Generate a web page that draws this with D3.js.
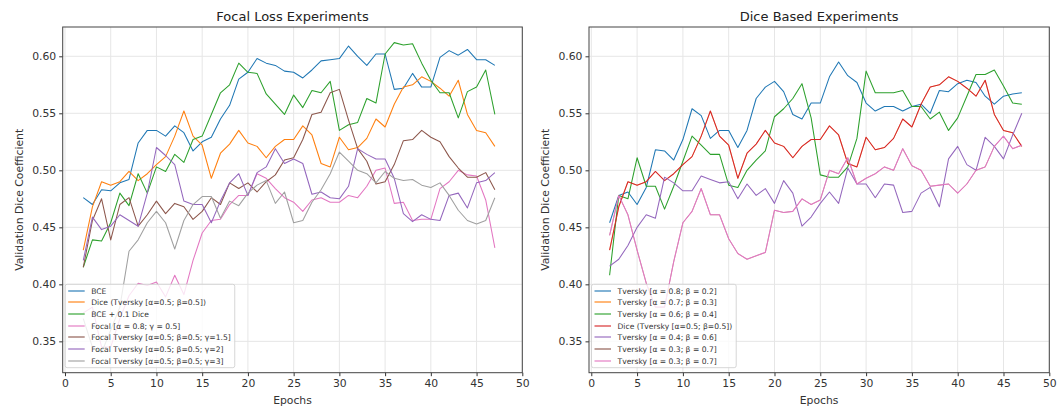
<!DOCTYPE html>
<html>
<head>
<meta charset="utf-8">
<script src="https://cdn.jsdelivr.net/npm/d3@7"></script>
<style>
  body { margin: 0; background: #fff; }
  svg { display: block; font-family: "DejaVu Sans", sans-serif; }
</style>
</head>
<body>
<svg width="1061" height="412"></svg>
<script>
var epochs = [2,3,4,5,6,7,8,9,10,11,12,13,14,15,16,17,18,19,20,21,22,23,24,25,26,27,28,29,30,31,32,33,34,35,36,37,38,39,40,41,42,43,44,45,46,47];
var xTicks = [0,5,10,15,20,25,30,35,40,45,50];
var yTicks = [0.35,0.40,0.45,0.50,0.55,0.60];

// focal loss panel
var bce = [0.476,0.470,0.483,0.482,0.489,0.492,0.524,0.535,0.535,0.530,
  0.539,0.533,0.517,0.525,0.529,0.545,0.557,0.580,0.586,0.598,
  0.594,0.592,0.587,0.586,0.581,0.588,0.596,0.597,0.598,0.609,
  0.600,0.592,0.602,0.602,0.571,0.572,0.585,0.573,0.573,0.599,
  0.605,0.601,0.606,0.597,0.597,0.592];
var dice = [0.430,0.468,0.490,0.487,0.490,0.499,0.491,0.497,0.505,0.512,
  0.530,0.552,0.530,0.522,0.493,0.515,0.523,0.535,0.524,0.521,
  0.511,0.521,0.527,0.527,0.539,0.531,0.506,0.503,0.529,0.518,
  0.520,0.528,0.545,0.538,0.558,0.573,0.575,0.582,0.578,0.572,
  0.565,0.579,0.549,0.535,0.533,0.521];
var bceDice = [0.415,0.439,0.438,0.454,0.480,0.469,0.497,0.480,0.503,0.499,
  0.514,0.507,0.527,0.530,0.549,0.568,0.575,0.594,0.586,0.585,
  0.567,0.558,0.549,0.566,0.555,0.570,0.568,0.578,0.535,0.540,
  0.542,0.563,0.559,0.602,0.612,0.610,0.611,0.594,0.579,0.568,
  0.568,0.546,0.569,0.573,0.588,0.549];
var focal = [0.375,0.380,0.345,0.345,0.370,0.390,0.401,0.399,0.402,0.389,
  0.408,0.391,0.421,0.445,0.456,0.457,0.470,0.478,0.478,0.497,
  0.493,0.484,0.476,0.472,0.464,0.474,0.476,0.472,0.472,0.478,
  0.476,0.486,0.500,0.502,0.471,0.472,0.456,0.457,0.457,0.484,
  0.490,0.500,0.496,0.495,0.474,0.432];
var focalTv15 = [0.415,0.456,0.475,0.439,0.470,0.476,0.451,0.461,0.473,0.462,
  0.471,0.468,0.457,0.464,0.476,0.470,0.489,0.484,0.489,0.481,
  0.490,0.496,0.509,0.511,0.527,0.549,0.551,0.568,0.571,0.544,
  0.519,0.508,0.488,0.490,0.505,0.526,0.527,0.535,0.529,0.525,
  0.512,0.502,0.494,0.494,0.498,0.483];
var focalTv2 = [0.421,0.459,0.448,0.451,0.461,0.456,0.451,0.480,0.520,0.513,
  0.505,0.473,0.470,0.470,0.454,0.473,0.489,0.497,0.478,0.498,
  0.503,0.519,0.506,0.510,0.506,0.479,0.481,0.476,0.475,0.486,
  0.519,0.514,0.510,0.510,0.493,0.462,0.455,0.461,0.457,0.456,
  0.478,0.480,0.467,0.489,0.491,0.498];
var focalTv3 = [0.370,0.345,0.340,0.360,0.380,0.429,0.439,0.454,0.464,0.454,
  0.431,0.456,0.470,0.477,0.477,0.458,0.473,0.469,0.480,0.487,
  0.491,0.471,0.481,0.454,0.456,0.472,0.483,0.497,0.516,0.508,
  0.500,0.497,0.489,0.499,0.493,0.491,0.492,0.487,0.485,0.489,
  0.478,0.465,0.456,0.453,0.456,0.476];

// dice panel
var tv08 = [0.454,0.478,0.481,0.470,0.485,0.518,0.517,0.509,0.527,0.554,
  0.548,0.528,0.535,0.535,0.520,0.535,0.563,0.573,0.578,0.569,
  0.549,0.545,0.559,0.559,0.582,0.595,0.583,0.577,0.559,0.552,
  0.556,0.556,0.552,0.556,0.558,0.550,0.570,0.569,0.576,0.579,
  0.577,0.565,0.558,0.565,0.567,0.568];
var tv07 = dice.slice();
var tv06 = [0.408,0.478,0.475,0.511,0.486,0.486,0.466,0.486,0.508,0.530,
  0.522,0.514,0.514,0.487,0.485,0.500,0.509,0.517,0.547,0.554,
  0.563,0.576,0.546,0.496,0.494,0.494,0.503,0.528,0.587,0.568,
  0.568,0.568,0.570,0.556,0.556,0.545,0.551,0.535,0.546,0.565,
  0.584,0.584,0.588,0.574,0.559,0.558];
var tv04 = [0.416,0.422,0.434,0.450,0.461,0.458,0.494,0.489,0.482,0.482,
  0.495,0.492,0.489,0.490,0.475,0.488,0.478,0.484,0.471,0.491,
  0.480,0.451,0.459,0.471,0.481,0.471,0.502,0.488,0.488,0.476,
  0.488,0.487,0.463,0.464,0.480,0.485,0.468,0.510,0.521,0.505,
  0.500,0.529,0.521,0.510,0.531,0.550];
var tv03 = [0.443,0.478,0.461,0.430,0.401,0.380,0.380,0.420,0.454,0.464,
  0.484,0.461,0.461,0.440,0.427,0.422,0.425,0.428,0.465,0.463,
  0.464,0.475,0.470,0.474,0.500,0.497,0.511,0.488,0.493,0.497,
  0.503,0.500,0.519,0.504,0.500,0.486,0.487,0.488,0.480,0.488,
  0.500,0.503,0.521,0.530,0.519,0.522];
var tv03b = tv03.slice();

var focalSeries = [
  {name: "BCE", values: bce, color: "#1f77b4"},
  {name: "Dice (Tversky [α=0.5; β=0.5])", values: dice, color: "#ff7f0e"},
  {name: "BCE + 0.1 Dice", values: bceDice, color: "#2ca02c"},
  {name: "Focal [α = 0.8; γ = 0.5]", values: focal, color: "#e377c2"},
  {name: "Focal Tversky [α=0.5; β=0.5; γ=1.5]", values: focalTv15, color: "#8c564b"},
  {name: "Focal Tversky [α=0.5; β=0.5; γ=2]", values: focalTv2, color: "#9467bd"},
  {name: "Focal Tversky [α=0.5; β=0.5; γ=3]", values: focalTv3, color: "#a0a0a0"}
];
// orange and brown lines sit exactly under red and pink in the reference
var diceSeries = [
  {name: "Tversky [α = 0.8; β = 0.2]", values: tv08, color: "#1f77b4"},
  {name: "Tversky [α = 0.7; β = 0.3]", values: tv07, color: "#ff7f0e", under: true},
  {name: "Tversky [α = 0.6; β = 0.4]", values: tv06, color: "#2ca02c"},
  {name: "Dice (Tversky [α=0.5; β=0.5])", values: dice, color: "#d62728"},
  {name: "Tversky [α = 0.4; β = 0.6]", values: tv04, color: "#9467bd"},
  {name: "Tversky [α = 0.3; β = 0.7]", values: tv03b, color: "#8c564b", under: true},
  {name: "Tversky [α = 0.3; β = 0.7]", values: tv03, color: "#e377c2"}
];

var svg = d3.select("svg");
var plotTop = 27, plotBottom = 372.7;

function drawPanel(left, right, title, series) {
  var x = d3.scaleLinear().domain([-0.25, 50]).range([left, right]);
  var y = d3.scaleLinear().domain([0.3225, 0.6257]).range([plotBottom, plotTop]);
  var g = svg.append("g");

  // grid
  g.append("g").selectAll("line").data(xTicks).enter().append("line")
    .attr("x1", d => x(d)).attr("x2", d => x(d))
    .attr("y1", plotTop).attr("y2", plotBottom)
    .attr("stroke", "#e6e6e6").attr("stroke-width", 1);
  g.append("g").selectAll("line").data(yTicks).enter().append("line")
    .attr("x1", left).attr("x2", right)
    .attr("y1", d => y(d)).attr("y2", d => y(d))
    .attr("stroke", "#e6e6e6").attr("stroke-width", 1);

  var line = d3.line()
    .x((d, i) => x(epochs[i]))
    .y(d => y(d));

  g.append("g").selectAll("path").data(series).enter().append("path")
    .attr("d", d => line(d.values))
    .attr("fill", "none")
    .attr("stroke", d => d.color)
    .attr("stroke-width", d => d.under ? 0.5 : 1.05)
    .attr("stroke-linejoin", "round");

  // axes
  var xAxis = g.append("g").attr("transform", "translate(0," + plotBottom + ")")
    .call(d3.axisBottom(x).tickValues(xTicks).tickFormat(d3.format("d")).tickSize(3.5).tickPadding(3));
  var yAxis = g.append("g").attr("transform", "translate(" + left + ",0)")
    .call(d3.axisLeft(y).tickValues(yTicks).tickFormat(d3.format(".2f")).tickSize(3.5).tickPadding(3));
  [xAxis, yAxis].forEach(function(a) {
    a.select(".domain").remove();
    a.selectAll("line").attr("stroke", "#333");
    a.selectAll("text").attr("font-size", 10.8).attr("fill", "#333")
      .attr("font-family", "DejaVu Sans");
  });

  g.append("rect")
    .attr("x", left).attr("y", plotTop)
    .attr("width", right - left).attr("height", plotBottom - plotTop)
    .attr("fill", "none").attr("stroke", "#444").attr("stroke-width", 1);

  g.append("text").attr("x", (left + right) / 2).attr("y", 21)
    .attr("text-anchor", "middle").attr("font-size", 13).attr("fill", "#222")
    .text(title);
  g.append("text").attr("x", (left + right) / 2).attr("y", 404)
    .attr("text-anchor", "middle").attr("font-size", 10.8).attr("fill", "#333")
    .text("Epochs");
  g.append("text")
    .attr("transform", "translate(" + (left - 40) + "," + ((plotTop + plotBottom) / 2) + ") rotate(-90)")
    .attr("text-anchor", "middle").attr("font-size", 10.8).attr("fill", "#333")
    .text("Validation Dice Coefficient");

  // legend
  var lx = left + 2.5, ly = 284.3, rowH = 11.7;
  var legend = g.append("g");
  var box = legend.append("rect")
    .attr("x", lx).attr("y", ly).attr("height", rowH * series.length + 1.5)
    .attr("rx", 2).attr("fill", "#fff").attr("fill-opacity", 0.8)
    .attr("stroke", "#ccc").attr("stroke-width", 0.8);
  var maxW = 0;
  series.forEach(function(s, i) {
    var cy = Math.round(ly + 6.2 + i * rowH);
    legend.append("line")
      .attr("x1", lx + 3).attr("x2", lx + 19.5)
      .attr("y1", cy).attr("y2", cy)
      .attr("stroke", s.color).attr("stroke-width", 1.5).attr("stroke-opacity", 0.75);
    var t = legend.append("text")
      .attr("x", lx + 26).attr("y", cy + 2.7)
      .attr("font-size", 7.6).attr("fill", "#333")
      .text(s.name);
    maxW = Math.max(maxW, t.node().getComputedTextLength());
  });
  box.attr("width", maxW + 30);
}

drawPanel(62.7, 522.3, "Focal Loss Experiments", focalSeries);
drawPanel(589, 1049.3, "Dice Based Experiments", diceSeries);
</script>
</body>
</html>
